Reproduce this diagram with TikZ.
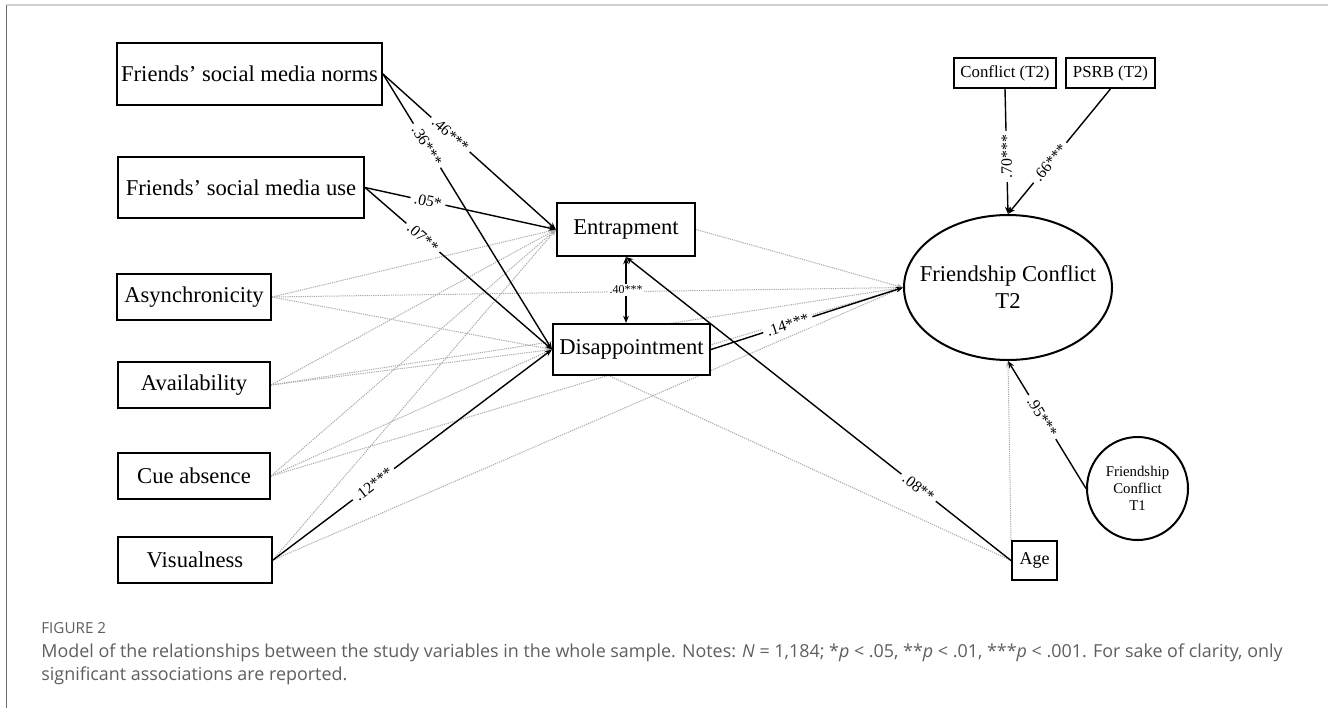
\documentclass[tikz,border=0pt]{standalone}
\usepackage{fontspec}
\setmainfont{Liberation Serif}
\newfontfamily\capfont{Open Sans}
\usetikzlibrary{arrows.meta,shapes.geometric,backgrounds}
\definecolor{capgray}{HTML}{5F5F5F}
\definecolor{nsgray}{HTML}{ABABAB}
\begin{document}
\begin{tikzpicture}[x=0.5pt,y=-0.5pt,
  box/.style={draw=black, line width=1pt, fill=white, inner sep=0pt, font=\fontsize{11.3}{13}\selectfont},
  sbox/.style={draw=black, line width=0.9pt, fill=white, inner sep=0pt, font=\fontsize{8.4}{10}\selectfont},
  lat/.style={draw=black, line width=1pt, fill=white, ellipse, inner sep=0pt},
  sig/.style={line width=0.7pt, -{Stealth[length=3.6pt,width=2.8pt]}},
  ns/.style={nsgray, line width=0.5pt, dash pattern=on 0.6pt off 0.5pt, -{Stealth[length=3pt,width=2.2pt]}},
  lab/.style={fill=white, inner sep=2pt, font=\fontsize{7.9}{9}\selectfont, sloped},
  captext/.style={anchor=base west, inner sep=0pt, text=capgray, font=\capfont\fontsize{8.95}{11}\selectfont},
]
\useasboundingbox (0,0) rectangle (1328,708);

% observed variables (left)
\node[box, minimum width=132.5pt, minimum height=31pt] (norms) at (249.5,74) {Friends’ social media norms};
\node[box, minimum width=123pt, minimum height=30.5pt] (use) at (241,187.5) {Friends’ social media use};
\node[box, minimum width=77pt, minimum height=23pt] (async) at (194,297) {Asynchronicity};
\node[box, minimum width=76pt, minimum height=23pt] (avail) at (194,385) {Availability};
\node[box, minimum width=76pt, minimum height=23pt] (cue) at (194,476) {Cue absence};
\node[box, minimum width=77pt, minimum height=23pt] (visual) at (195,560) {Visualness};

% mediators
\node[box, minimum width=69pt, minimum height=26.5pt] (entr) at (626,229.5) {Entrapment};
\node[box, minimum width=78.5pt, minimum height=25.5pt] (disap) at (631.5,349.5) {Disappointment};

% outcome
\node[lat, minimum width=104pt, minimum height=72.5pt,
  label={[align=center, font=\fontsize{11.3}{13.5}\selectfont]center:Friendship Conflict\\T2}] (t2) at (1008,287.5) {};
\node[sbox, minimum width=51pt, minimum height=15pt] (conf) at (1005,73) {Conflict (T2)};
\node[sbox, minimum width=44.5pt, minimum height=15pt] (psrb) at (1110.5,73) {PSRB (T2)};
\node[lat, minimum width=50.5pt, minimum height=51.5pt,
  label={[align=center, font=\fontsize{7.4}{8.6}\selectfont]center:Friendship\\Conflict\\T1}] (t1) at (1137.5,488.5) {};
\node[box, minimum width=22.5pt, minimum height=19.5pt, font=\fontsize{9}{11}\selectfont] (age) at (1034.5,560.5) {Age};

\begin{scope}[on background layer]
  \fill[white] (0,0) rectangle (1328,708);
  % non-significant paths
  \foreach \s in {async,avail,cue} {
    \draw[ns] (\s.east) -- (entr.west);
    \draw[ns] (\s.east) -- (disap.west);
    \draw[ns] (\s.east) -- (t2.west);
  }
  \draw[ns] (visual.east) -- (entr.west);
  \draw[ns] (visual.east) -- (t2.west);
  \draw[ns] (entr.east) -- (t2.west);
  \draw[ns] (age.west) -- (disap.west);
  \draw[ns] (age.north west) -- (t2.south);

  % significant paths
  \draw[sig] (norms.east) -- node[lab, pos=0.39] {.46***} (entr.west);
  \draw[sig] (norms.east) -- node[lab, pos=0.26] {.36***} (disap.west);
  \draw[sig] (use.east) -- node[lab, pos=0.33] {.05*} (entr.west);
  \draw[sig] (use.east) -- node[lab, pos=0.31] {.07**} (disap.west);
  \draw[sig] (visual.east) -- node[lab, pos=0.36] {.12***} (disap.west);
  \draw[sig] (disap.east) -- node[lab, pos=0.40] {.14***} (t2.west);
  \draw[sig] (age.west) -- node[lab, pos=0.24] {.08**} (entr.south);
  \draw[line width=0.7pt, {Stealth[length=3.6pt,width=2.8pt]}-{Stealth[length=3.6pt,width=2.8pt]}]
    (entr.south) -- node[fill=white, inner sep=0.8pt, font=\fontsize{6}{7}\selectfont] {.40***} (entr.south |- disap.north);
  \draw[sig] (conf.south) -- node[fill=white, inner sep=2pt, font=\fontsize{7.9}{9}\selectfont, rotate=90, pos=0.54] {.70***} (t2.north);
  \draw[sig] (psrb.south) -- node[lab, pos=0.59] {.66***} (t2.north);
  \draw[sig] (t1.west) -- node[lab, pos=0.56] {.95***} (t2.south);
\end{scope}

% frame lines and caption
\coordinate (fa) at (6.5,708);
\coordinate (fb) at (6.5,5);
\coordinate (fc) at (1328,5);
\draw[capgray!90, line width=0.9pt] (fa) -- (fb);
\draw[capgray!30, line width=0.6pt] (fb) -- (fc);
\node[captext, font=\capfont\fontsize{7.6}{9}\selectfont] (figlab) at (41,633) {FIGURE 2};
\node[captext] (cap1) at (41,657) {Model of the relationships between the study variables in the whole sample. Notes: \textit{N} = 1,184; *\textit{p} < .05, **\textit{p} < .01, ***\textit{p} < .001. For sake of clarity, only};
\node[captext] (cap2) at (41,680) {significant associations are reported.};
\end{tikzpicture}
\end{document}
